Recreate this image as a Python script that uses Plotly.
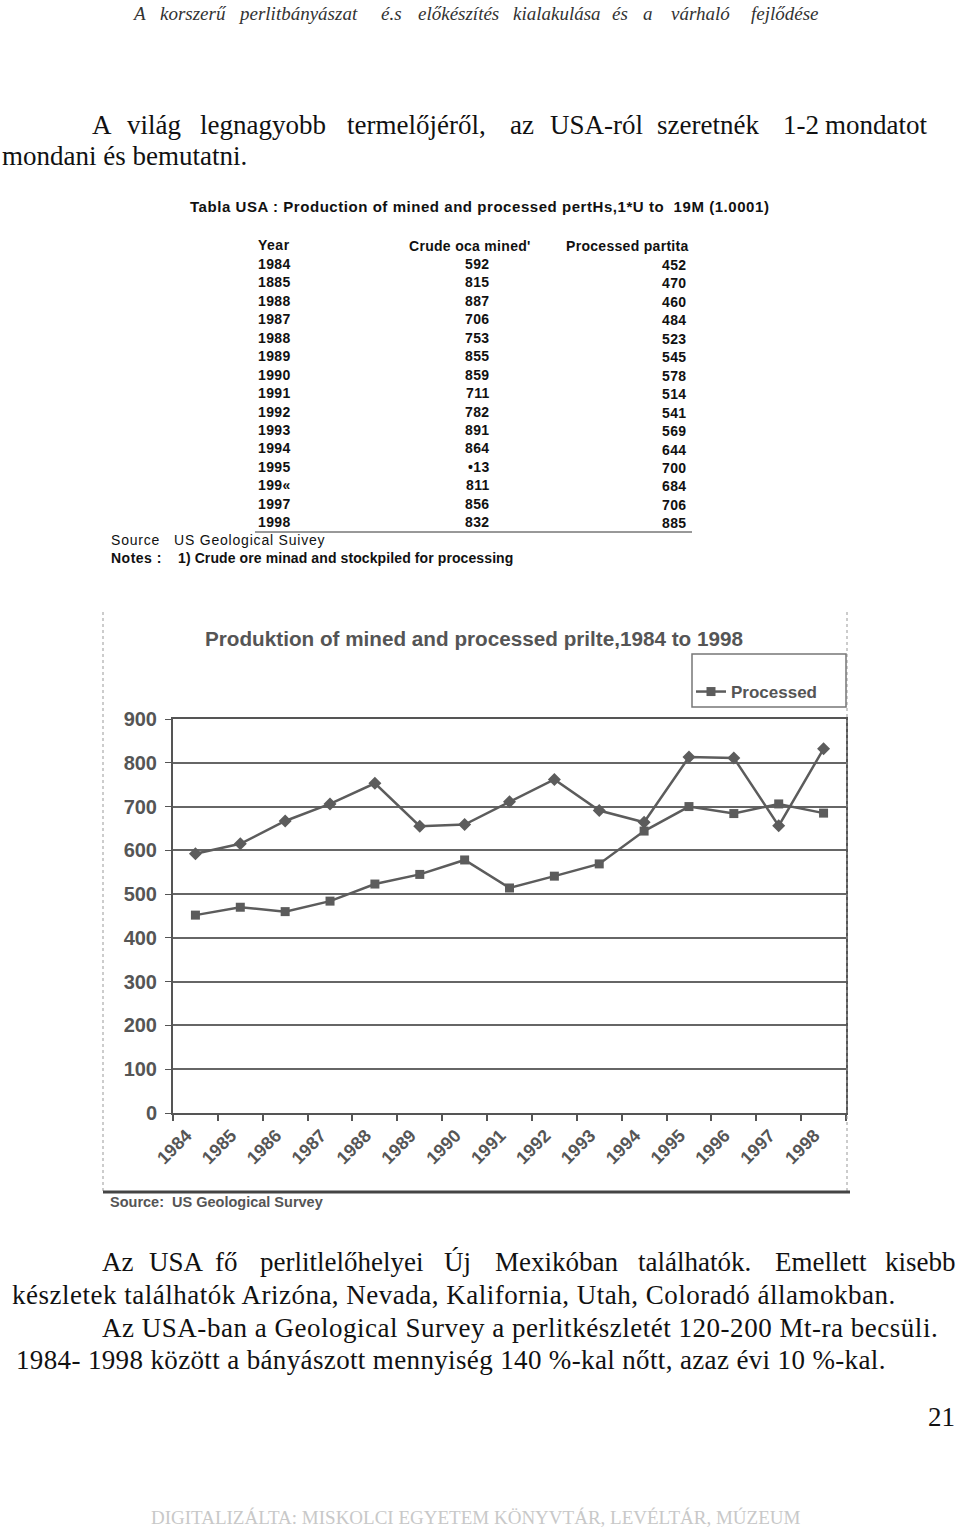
import plotly.graph_objects as go

W, H = 960, 1535
SERIF = "Liberation Serif, Times New Roman, serif"
SANS = "Liberation Sans, Arial, sans-serif"

# ---------------- data ----------------
years = ['1984', '1985', '1986', '1987', '1988', '1989', '1990', '1991',
         '1992', '1993', '1994', '1995', '1996', '1997', '1998']
mined = [592, 615, 667, 706, 753, 655, 659, 711, 762, 691, 664, 813, 811, 656, 832]
processed = [452, 470, 460, 484, 523, 545, 578, 514, 541, 569, 644, 700, 684, 706, 685]
y_ticks = [0, 100, 200, 300, 400, 500, 600, 700, 800, 900]

# table as printed on the page
table_header = ['Year', "Crude oca mined'", 'Processed partita']
table_years = ['1984', '1885', '1988', '1987', '1988', '1989', '1990', '1991',
               '1992', '1993', '1994', '1995', '199«', '1997', '1998']
table_crude = ['592', '815', '887', '706', '753', '855', '859', '711',
               '782', '891', '864', '•13', '811', '856', '832']
table_processed = ['452', '470', '460', '484', '523', '545', '578', '514',
                   '541', '569', '644', '700', '684', '706', '885']

header_words = ['A', 'korszerű', 'perlitbányászat', 'é.s', 'előkészítés',
                'kialakulása', 'és', 'a', 'várhaló', 'fejlődése']
para1_line1 = ['A', 'világ', 'legnagyobb', 'termelőjéről,', 'az', 'USA-ról',
               'szeretnék', '1-2', 'mondatot']
para1_line2 = 'mondani és bemutatni.'
para2_line1 = ['Az', 'USA', 'fő', 'perlitlelőhelyei', 'Új', 'Mexikóban',
               'találhatók.', 'Emellett', 'kisebb']
para2_line2 = 'készletek találhatók Arizóna, Nevada, Kalifornia, Utah, Coloradó államokban.'
para2_line3 = 'Az USA-ban a Geological Survey a perlitkészletét 120-200 Mt-ra becsüli.'
para2_line4 = '1984- 1998 között a bányászott mennyiség 140 %-kal nőtt, azaz évi 10 %-kal.'

# word start positions on the page (layout only)
header_x = [130, 158, 236, 379, 416, 511, 610, 641, 669, 749]
para1_x = [90, 125, 198, 345, 508, 548, 655, 781, 823]
para2_x = [100, 147, 213, 258, 442, 493, 636, 773, 883]

fig = go.Figure()


def px(x):
    return x / W


def py(y):
    return 1 - y / H


def ann(x, y, text, size, family=SERIF, color='#111', xanchor='left', bold=False,
        italic=False, spacing=None):
    if spacing:
        text = '<span style="letter-spacing:%spx">%s</span>' % (spacing, text)
    fig.add_annotation(x=px(x), y=py(y), xref='paper', yref='paper', text=text,
                       showarrow=False, xanchor=xanchor, yanchor='middle',
                       font=dict(size=size, family=family, color=color,
                                 weight='bold' if bold else 'normal',
                                 style='italic' if italic else 'normal'))


def rect(x0, y0, x1, y1, color='#666', width=1.5, dash='solid'):
    fig.add_shape(type='rect', xref='paper', yref='paper',
                  x0=px(x0), x1=px(x1), y0=py(y0), y1=py(y1),
                  line=dict(color=color, width=width, dash=dash))


def line(x0, y0, x1, y1, color='#666', width=1.5, dash='solid'):
    fig.add_shape(type='line', xref='paper', yref='paper',
                  x0=px(x0), x1=px(x1), y0=py(y0), y1=py(y1),
                  line=dict(color=color, width=width, dash=dash))


# ---------------- page text ----------------
for w, x in zip(header_words, header_x):
    ann(x, 13, w, 19, color='#333', italic=True)

for w, x in zip(para1_line1, para1_x):
    ann(x, 125, w, 27)
ann(0, 156, para1_line2, 27)

ann(188, 206, 'Tabla USA : Production of mined and processed pertHs,1*U to  19M (1.0001)',
    15, family=SANS, color='#111', bold=True, spacing=0.55)

# table
ann(256, 245, table_header[0], 14, family=SANS, bold=True, spacing=0.5)
ann(533, 246, table_header[1], 14, family=SANS, bold=True, xanchor='right', spacing=0.3)
ann(691, 246, table_header[2], 14, family=SANS, bold=True, xanchor='right', spacing=0.3)
for i in range(len(table_years)):
    yy = 264 + 18.45 * i
    ann(256, yy, table_years[i], 14, family=SANS, bold=True, spacing=0.4)
    ann(492, yy, table_crude[i], 14, family=SANS, bold=True, xanchor='right', spacing=0.4)
    ann(689, yy + 1, table_processed[i], 14, family=SANS, bold=True, xanchor='right', spacing=0.4)
line(255, 532, 692, 532, color='#333', width=1)
ann(109, 540, 'Source', 14, family=SANS, spacing=0.8)
ann(172, 540, 'US Geological Suivey', 14, family=SANS, spacing=0.8)
ann(109, 558, 'Notes :', 14, family=SANS, bold=True, spacing=0.5)
ann(176, 558, '1) Crude ore minad and stockpiled for processing', 14, family=SANS, bold=True,
    spacing=0.1)

# ---------------- chart frame ----------------
line(103, 612, 103, 1192, color='#999', width=1, dash='dot')
line(847, 612, 847, 1192, color='#999', width=1, dash='dot')
line(103, 1192, 850, 1192, color='#444', width=3)
ann(474, 638, 'Produktion of mined and processed prilte,1984 to 1998', 20.7,
    family=SANS, color='#555', bold=True, xanchor='center')
ann(108, 1202, 'Source:  US Geological Survey', 14.5, family=SANS, color='#555', bold=True)
rect(692, 654, 846, 707, color='#777', width=1.5)

CHART = '#5c5c5c'
fig.add_trace(go.Scatter(x=years, y=mined, mode='lines+markers', name='Mined',
                         line=dict(color=CHART, width=2.5),
                         marker=dict(symbol='diamond', size=10, color=CHART),
                         showlegend=False))
fig.add_trace(go.Scatter(x=years, y=processed, mode='lines+markers', name='Processed',
                         line=dict(color=CHART, width=2.5),
                         marker=dict(symbol='square', size=9, color=CHART)))

fig.update_layout(
    width=W, height=H, margin=dict(l=0, r=0, t=0, b=0, pad=0, autoexpand=False),
    paper_bgcolor='white', plot_bgcolor='white',
    showlegend=True,
    legend=dict(x=px(691), y=py(692), xanchor='left', yanchor='middle',
                bgcolor='rgba(0,0,0,0)', borderwidth=0,
                font=dict(size=17, family=SANS, color='#555', weight='bold'),
                itemwidth=30),
    xaxis=dict(type='category', domain=[px(173), px(846)], range=[-0.5, 14.5],
               automargin=False,
               tickson='boundaries', ticks='outside', ticklen=6, tickcolor='#555',
               tickwidth=1.5, tickangle=-45, ticklabelshift=-9, ticklabelstandoff=3,
               tickfont=dict(size=18, family=SANS, color='#555', weight='bold'),
               showline=True, mirror=True, linecolor='#555', linewidth=2,
               showgrid=False, fixedrange=True),
    yaxis=dict(domain=[py(1113), py(719)], range=[0, 900], automargin=False,
               tickvals=y_ticks, ticks='outside', ticklen=6, tickcolor='#555',
               ticklabelstandoff=4,
               tickfont=dict(size=20, family=SANS, color='#555', weight='bold'),
               showgrid=True, gridcolor='#666', gridwidth=2,
               showline=True, mirror=True, linecolor='#555', linewidth=2,
               zeroline=False, fixedrange=True),
)

ann(957, 1417, '21', 27, xanchor='right')

for w, x in zip(para2_line1, para2_x):
    ann(x, 1262, w, 27)
ann(10, 1295, para2_line2, 27, spacing=0.5)
ann(100, 1328, para2_line3, 27, spacing=0.52)
ann(14, 1360, para2_line4, 27, spacing=0.36)

ann(476, 1517, 'DIGITALIZÁLTA: MISKOLCI EGYETEM KÖNYVTÁR, LEVÉLTÁR, MÚZEUM', 19,
    color='#c8c8c8', xanchor='center')

fig.write_html('out.html')
